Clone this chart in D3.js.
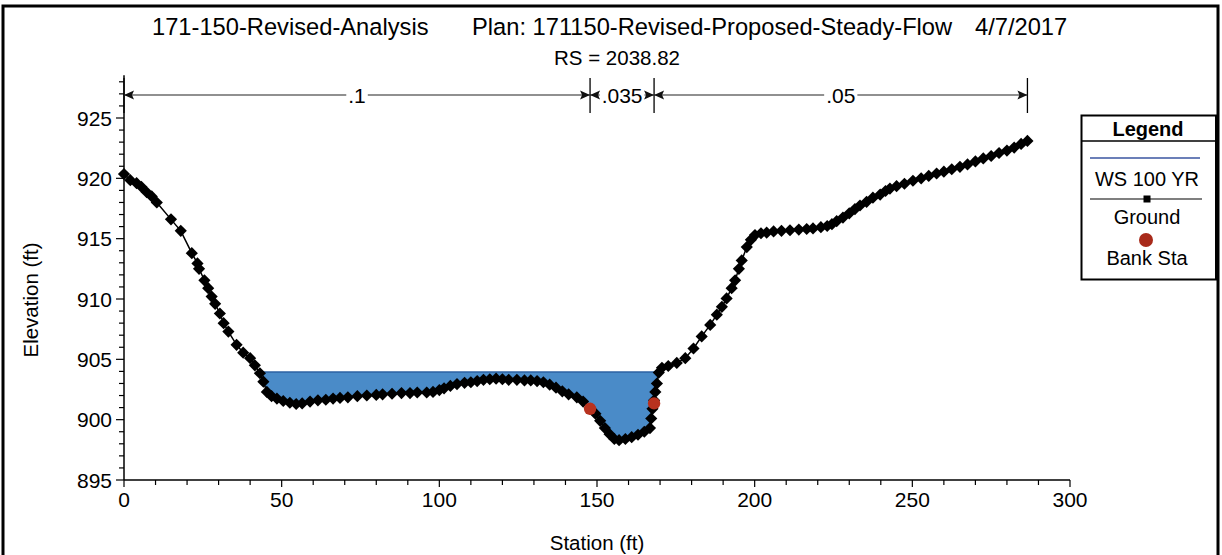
<!DOCTYPE html>
<html><head><meta charset="utf-8">
<script src="https://cdn.jsdelivr.net/npm/d3@7"></script>
<style>
html,body{margin:0;padding:0;background:#fff;}
svg{display:block;font-family:"Liberation Sans",Arial,sans-serif;}
</style></head>
<body><svg id="chart" width="1222" height="555"></svg>
<script>
// ---------- data ----------
const titleParts = ["171-150-Revised-Analysis", "Plan: 171150-Revised-Proposed-Steady-Flow", "4/7/2017"];
const subtitle = "RS = 2038.82";
const groundSta = [0,2,4,5.5,7.2,8.8,10.4,14.9,18,21.5,23.3,23.8,25.5,26.7,27.8,28.9,30.4,31.6,33.1,35.7,37.8,40,41.5,43.1,44.2,45.3,46.8,48.5,50.5,52.6,54.6,56.5,59,61.5,64,66.3,68.5,71,74,77,80,82,85,88,90.7,93,96,98,100,101.5,103.5,105.6,108,110,112,114,116,118,120,122,124.6,127,129,131,133,135,137,139,141,143.6,145.6,147.8,149.5,151,152.5,154,155.5,157,159,161,163,165,166.8,167.2,167.6,168.1,168.5,169,169.6,170.6,172.6,175.3,178,180.6,183.2,185.9,188,189.6,191.1,192.7,193.8,195,195.9,197.5,198.8,200.1,202,203.8,206,208.5,211.2,214,216.5,218.5,221,223,224.5,226,228,230,231.8,233.4,235.5,237.5,239.8,241.5,242.9,245,247.5,250.2,252.8,255.2,257.7,260,262.5,265.1,267.5,270,272.5,275,277.5,280,282.3,284.5,286.5];
const groundElev = [920.35,919.85,919.6,919.3,918.85,918.5,918.0,916.6,915.65,913.8,912.95,912.5,911.55,910.9,910.2,909.6,908.8,908.0,907.3,906.2,905.55,905.1,904.5,903.85,903.15,902.3,901.95,901.75,901.55,901.4,901.3,901.35,901.5,901.6,901.65,901.75,901.8,901.85,901.95,902.0,902.05,902.1,902.15,902.2,902.2,902.25,902.25,902.3,902.45,902.6,902.8,902.95,903.05,903.1,903.2,903.3,903.35,903.4,903.35,903.3,903.3,903.25,903.25,903.2,903.1,902.9,902.65,902.35,902.1,901.85,901.5,900.9,900.5,899.9,899.3,898.8,898.4,898.3,898.4,898.55,898.75,899.0,899.3,900.1,900.9,901.6,902.3,903.0,903.9,904.3,904.45,904.7,905.1,905.9,906.9,907.85,908.7,909.35,910.05,910.9,911.55,912.5,913.2,914.3,914.9,915.3,915.45,915.5,915.6,915.65,915.7,915.75,915.8,915.85,915.95,916.05,916.2,916.45,916.75,917.1,917.45,917.75,918.05,918.4,918.65,918.95,919.15,919.35,919.55,919.8,920.0,920.2,920.4,920.55,920.75,920.95,921.15,921.4,921.65,921.85,922.1,922.3,922.55,922.85,923.1];
const wsElev = 903.95;
const bankSta = [147.8, 168.1];
const bankElev = [900.9, 901.35];
const nSta = [0, 147.8, 168.1, 286.5];
const nVal = [".1", ".035", ".05"];
const xTicksMajor = [0,50,100,150,200,250,300];
const yTicksMajor = [895,900,905,910,915,920,925];
const legendItems = ["WS 100 YR", "Ground", "Bank Sta"];

// ---------- setup ----------
const svg = d3.select("#chart");
const x = d3.scaleLinear().domain([0,300]).range([124,1070]);
const y = d3.scaleLinear().domain([895,925]).range([480,118]);
const yTop = 928.55;

// frame
svg.append("rect").attr("x",3).attr("y",6).attr("width",1215).attr("height",570)
  .attr("fill","none").attr("stroke","#000").attr("stroke-width",3);

// titles
const tPos = [152,472,975];
titleParts.forEach((t,i)=>{
  svg.append("text").attr("x",tPos[i]).attr("y",35).attr("text-anchor","start")
    .attr("font-size",23.7).attr("fill","#000").text(t);
});
svg.append("text").attr("x",617).attr("y",65).attr("text-anchor","middle")
  .attr("font-size",20.5).text(subtitle);

// ---------- water ----------
const ground = groundSta.map((s,i)=>({s, e: groundElev[i]}));
const wpts = [];
const cross = [];
for (let i=0;i<ground.length;i++){
  const a = ground[i];
  wpts.push({s:a.s, e:Math.min(a.e, wsElev)});
  if (i<ground.length-1){
    const b = ground[i+1];
    if ((a.e-wsElev)*(b.e-wsElev) < 0){
      const t = (wsElev-a.e)/(b.e-a.e);
      const c = {s:a.s+t*(b.s-a.s), e:wsElev};
      wpts.push(c); cross.push(c.s);
    }
  }
}
svg.append("path").datum(wpts)
  .attr("d", d3.area().x(d=>x(d.s)).y0(y(wsElev)).y1(d=>y(d.e)))
  .attr("fill","#4a8bc8").attr("stroke","none");
const wsL = d3.min(cross), wsR = d3.max(cross);
svg.append("line").attr("x1",x(wsL)).attr("x2",x(wsR)).attr("y1",y(wsElev)).attr("y2",y(wsElev))
  .attr("stroke","#2d62a3").attr("stroke-width",1.5);

// ---------- axes ----------
const axisG = svg.append("g");
axisG.append("line").attr("x1",124).attr("x2",124).attr("y1",y(yTop)).attr("y2",480)
  .attr("stroke","#000").attr("stroke-width",1.5);
d3.range(895,929).forEach(v=>{
  const major = v%5===0;
  axisG.append("line").attr("x1",124-(major?8:5)).attr("x2",124).attr("y1",y(v)).attr("y2",y(v))
    .attr("stroke","#000").attr("stroke-width",1.2);
});
yTicksMajor.forEach(v=>{
  axisG.append("text").attr("x",112).attr("y",y(v)).attr("dy","0.36em").attr("text-anchor","end")
    .attr("font-size",21).text(v);
});
axisG.append("line").attr("x1",124).attr("x2",x(300)).attr("y1",480).attr("y2",480)
  .attr("stroke","#000").attr("stroke-width",1.5);
d3.range(0,301,10).forEach(v=>{
  const major = v%50===0;
  axisG.append("line").attr("x1",x(v)).attr("x2",x(v)).attr("y1",480).attr("y2",480+(major?7:5))
    .attr("stroke","#000").attr("stroke-width",1.2);
});
xTicksMajor.forEach(v=>{
  axisG.append("text").attr("x",x(v)).attr("y",507).attr("text-anchor","middle")
    .attr("font-size",21).text(v);
});
svg.append("text").attr("x",597).attr("y",550).attr("text-anchor","middle")
  .attr("font-size",20.5).text("Station (ft)");
svg.append("text").attr("transform","translate(38,300) rotate(-90)").attr("text-anchor","middle")
  .attr("font-size",20.5).text("Elevation (ft)");

// ---------- Manning n ----------
const nY = 95;
const ng = svg.append("g");
nSta.forEach(s=>{
  ng.append("line").attr("x1",x(s)).attr("x2",x(s)).attr("y1",78).attr("y2",113)
    .attr("stroke","#000").attr("stroke-width",1.3);
});
nVal.forEach((v,i)=>{
  const x1 = x(nSta[i]), x2 = x(nSta[i+1]);
  ng.append("line").attr("x1",x1).attr("x2",x2).attr("y1",nY).attr("y2",nY)
    .attr("stroke","#222").attr("stroke-width",1.2);
  ng.append("path").attr("d",`M${x1},${nY}L${x1+10},${nY-4.5}L${x1+8},${nY}L${x1+10},${nY+4.5}Z`).attr("fill","#111");
  ng.append("path").attr("d",`M${x2},${nY}L${x2-10},${nY-4.5}L${x2-8},${nY}L${x2-10},${nY+4.5}Z`).attr("fill","#111");
  const t = ng.append("text").attr("x",(x1+x2)/2).attr("y",nY).attr("dy","0.36em")
    .attr("text-anchor","middle").attr("font-size",21).text(v);
  const bb = t.node().getBBox();
  ng.insert("rect","text:last-of-type").attr("x",bb.x-2).attr("y",nY-3).attr("width",bb.width+4).attr("height",6).attr("fill","#fff");
});

// ---------- ground ----------
svg.append("path").datum(ground)
  .attr("d", d3.line().x(d=>x(d.s)).y(d=>y(d.e)))
  .attr("fill","none").attr("stroke","#000").attr("stroke-width",1.5);
const sq = d3.symbol().type(d3.symbolSquare).size(74);
svg.append("g").selectAll("path").data(ground).join("path")
  .attr("d", sq).attr("transform",d=>`translate(${x(d.s)},${y(d.e)}) rotate(45)`)
  .attr("fill","#000");

// bank stations
svg.append("g").selectAll("circle").data(bankSta).join("circle")
  .attr("cx",d=>x(d)).attr("cy",(d,i)=>y(bankElev[i])).attr("r",6.2)
  .attr("fill","#b8321f");

// ---------- legend ----------
const lg = svg.append("g");
lg.append("rect").attr("x",1081.5).attr("y",115.5).attr("width",134.5).attr("height",164)
  .attr("fill","#fff").attr("stroke","#000").attr("stroke-width",2);
lg.append("line").attr("x1",1081.5).attr("x2",1216).attr("y1",141).attr("y2",141)
  .attr("stroke","#000").attr("stroke-width",1.5);
lg.append("text").attr("x",1148).attr("y",136).attr("text-anchor","middle")
  .attr("font-size",20).attr("font-weight","bold").text("Legend");
lg.append("line").attr("x1",1090).attr("x2",1200).attr("y1",158).attr("y2",158)
  .attr("stroke","#3a55a0").attr("stroke-width",1.5);
lg.append("text").attr("x",1147).attr("y",186).attr("text-anchor","middle").attr("font-size",20).text(legendItems[0]);
lg.append("line").attr("x1",1090).attr("x2",1202).attr("y1",199).attr("y2",199)
  .attr("stroke","#000").attr("stroke-width",1.2);
lg.append("rect").attr("x",1143.5).attr("y",195.5).attr("width",7).attr("height",7).attr("fill","#000");
lg.append("text").attr("x",1147).attr("y",224).attr("text-anchor","middle").attr("font-size",20).text(legendItems[1]);
lg.append("circle").attr("cx",1146).attr("cy",240).attr("r",7).attr("fill","#a82a1a");
lg.append("text").attr("x",1147).attr("y",265).attr("text-anchor","middle").attr("font-size",20).text(legendItems[2]);
</script>
</body></html>
